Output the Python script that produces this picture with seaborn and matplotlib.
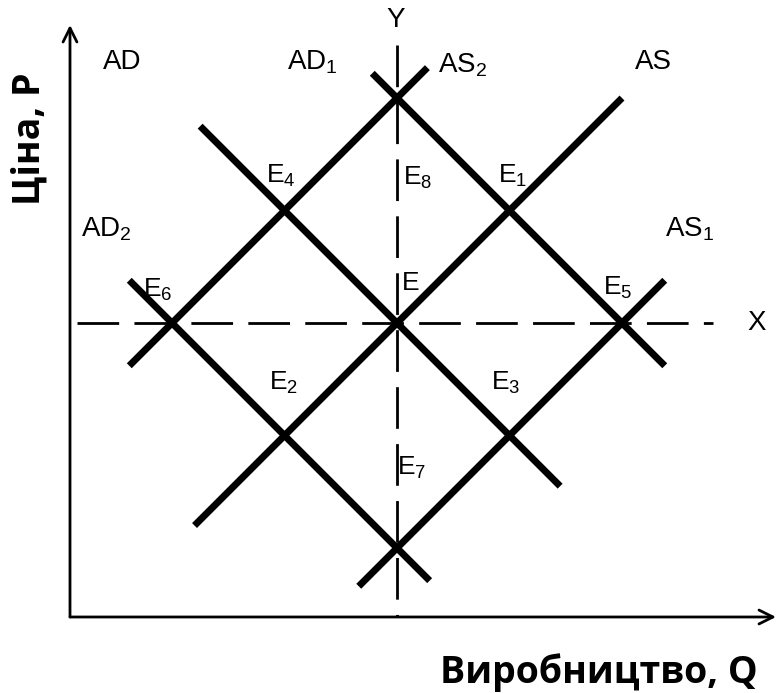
import seaborn as sns
import matplotlib.pyplot as plt
import pandas as pd

# curves of the AD-AS diagram, each given by its two end points (Q, P)
curves = ["AS", "AS1", "AS2", "AD", "AD1", "AD2"]
q_start = [1.20, 2.66, 0.62, 1.25, 2.78, 0.62]
p_start = [1.20, 0.66, 2.62, 4.75, 5.22, 3.38]
q_end = [5.00, 5.38, 3.27, 4.45, 5.38, 3.29]
p_end = [5.00, 3.38, 5.27, 1.55, 2.62, 0.71]

# equilibrium guides
eq_q = 3.0
eq_p = 3.0

curve_labels = ["AD", "AD$_1$", "AD$_2$", "AS", "AS$_1$", "AS$_2$", "Y", "X"]
curve_label_q = [0.56, 2.25, 0.42, 5.28, 5.60, 3.58, 2.99, 6.20]
curve_label_p = [5.32, 5.32, 3.83, 5.32, 3.83, 5.29, 5.69, 3.00]

point_labels = ["E", "E$_1$", "E$_2$", "E$_3$", "E$_4$", "E$_5$", "E$_6$", "E$_7$", "E$_8$"]
point_label_q = [3.12, 4.03, 1.99, 3.97, 1.97, 4.96, 0.87, 3.13, 3.18]
point_label_p = [3.36, 4.31, 2.47, 2.47, 4.31, 3.31, 3.29, 1.71, 4.29]

x_title = "Виробництво, Q"
y_title = "Ціна, Р"

sns.set_theme(style="white")
plt.rcParams['font.family'] = ['Liberation Sans', 'DejaVu Sans']
plt.rcParams['mathtext.fontset'] = 'custom'
plt.rcParams['mathtext.rm'] = 'Liberation Sans'
plt.rcParams['mathtext.it'] = 'Liberation Sans'

rows = []
for name, q0, p0, q1, p1 in zip(curves, q_start, p_start, q_end, p_end):
    rows.append((name, q0, p0))
    rows.append((name, q1, p1))
df = pd.DataFrame(rows, columns=['curve', 'Q', 'P'])

fig = plt.figure(figsize=(7.76, 6.93), dpi=100)
ax = fig.add_axes([70 / 776, 76 / 693, 706 / 776, 592 / 693])
ax.set_xlim(0.093, 6.369)
ax.set_ylim(0.387, 5.649)
ax.axis('off')

# dashed guides through E
ax.plot([eq_q, eq_q], [5.47, 0.387], color='black', lw=2, dashes=(15, 5.5), clip_on=False)
ax.plot([0.156, 5.81], [eq_p, eq_p], color='black', lw=2, dashes=(15, 5.5))

sns.lineplot(data=df, x='Q', y='P', units='curve', estimator=None, sort=False,
             color='black', lw=5, solid_capstyle='butt', ax=ax, legend=False)

# axes with open arrow heads
ax.annotate('', xy=(6.369, 0.387), xytext=(0.093, 0.387),
            arrowprops=dict(arrowstyle='->', lw=2, color='black', mutation_scale=25,
                            shrinkA=0, shrinkB=0), annotation_clip=False)
ax.annotate('', xy=(0.093, 5.649), xytext=(0.093, 0.387),
            arrowprops=dict(arrowstyle='->', lw=2, color='black', mutation_scale=25,
                            shrinkA=0, shrinkB=0), annotation_clip=False)

for txt, q, p in zip(curve_labels, curve_label_q, curve_label_p):
    ax.text(q, p, txt, fontsize=20, ha='center', va='center', color='black', clip_on=False)

for txt, q, p in zip(point_labels, point_label_q, point_label_p):
    ax.text(q, p, txt, fontsize=19, ha='center', va='center', color='black')

fig.text(30 / 776, 1 - 139 / 693, y_title, rotation=90, ha='center', va='center', color='black',
         fontsize=27, fontweight='bold', family=['Open Sans', 'DejaVu Sans'])
fig.text(440 / 776, 10 / 693, x_title, ha='left', va='baseline', color='black',
         fontsize=27, fontweight='bold', family=['Open Sans', 'DejaVu Sans'])

fig.savefig('out.png', dpi=100, facecolor='white')
